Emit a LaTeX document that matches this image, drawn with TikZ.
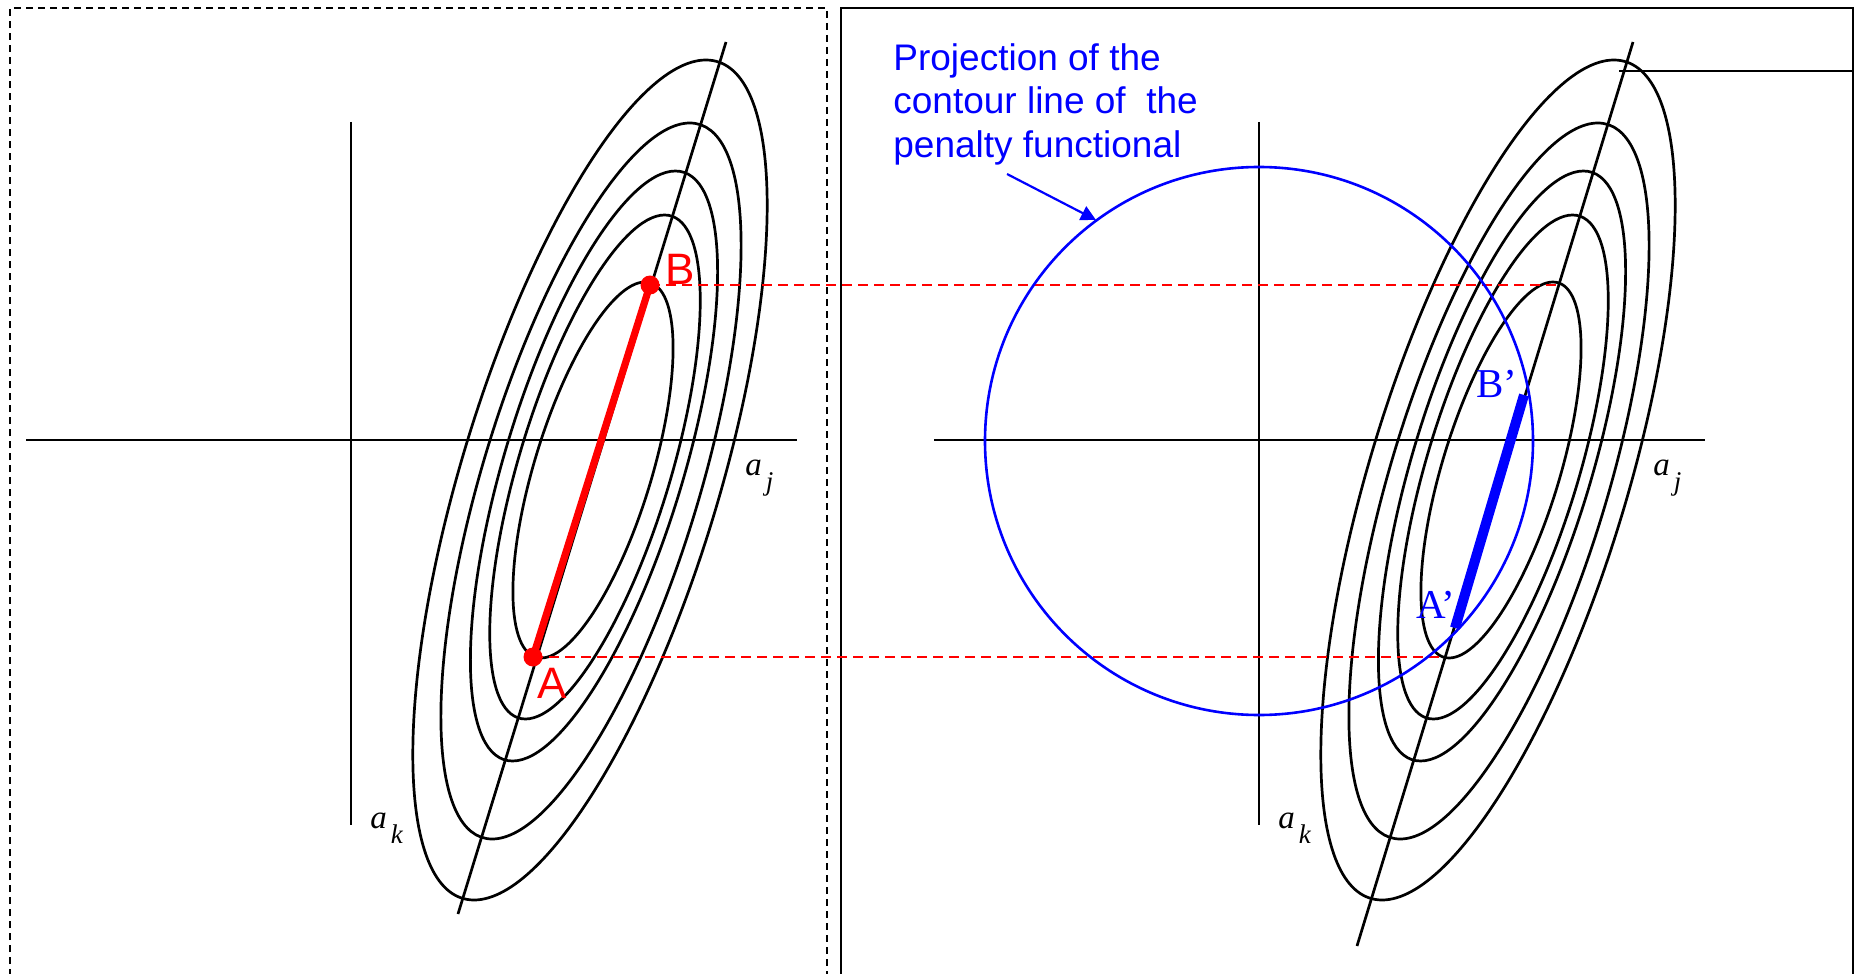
\documentclass[tikz,border=0pt]{standalone}
\usepackage{fontspec}
\setmainfont{Liberation Serif}
\setsansfont{Liberation Sans}
\usetikzlibrary{arrows.meta}
\newcommand{\axsub}[2]{#1\hspace{2pt}\raisebox{-7.5pt}{\fontsize{13.5}{14}\selectfont #2}}

\begin{document}
\begin{tikzpicture}[x=0.5pt, y=-0.5pt, every node/.style={inner sep=0pt},
	axis/.style={line width=1.45pt},
	contour/.style={line width=1.35pt},
	frame/.style={line width=0.8pt},
	proj/.style={red, line width=0.8pt, dash pattern=on 5pt off 3pt},
	penalty/.style={blue, line width=1.3pt},
	axlbl/.style={anchor=base west, font=\fontsize{16.5}{18}\selectfont\itshape},
	ptlbl/.style={anchor=base west, red, font=\sffamily\fontsize{22}{24}\selectfont},
	projlbl/.style={anchor=base west, blue, font=\fontsize{20.5}{22}\selectfont}]
	\path[use as bounding box, clip] (0,0) rectangle (1854,974);
	\draw[frame, dash pattern=on 3.5pt off 2.5pt] (10,1000) -- (10,8) -- (827,8) -- (827,1000);
	\draw[frame] (841,1000) -- (841,8) -- (1853,8) -- (1853,1000);
	\foreach \dx in {0,908} {
		\foreach \cx/\cy/\rx/\ry in {590/480/134/420, 591/481/113/358, 594/466/93/295, 595/467/79/252, 593/470/61/188}
			\draw[contour, shift={(\cx+\dx,\cy)}, xslant=0.276] (0,0) ellipse[x radius=\rx, y radius=\ry];
		\draw[axis] (26+\dx,440) -- (797+\dx,440);
		\draw[axis] (351+\dx,122) -- (351+\dx,825);
		\node[axlbl] (aj\dx) at (745+\dx,475) {\axsub{a}{j}};
		\node[axlbl] (ak\dx) at (370+\dx,828) {\axsub{a}{k}};
	}
	\draw[contour] (458,914) -- (726,42);
	\draw[contour] (1357,946) -- (1633,42);
	\draw[axis] (1619,71) -- (1854,71);
	\coordinate (A) at (533,657);
	\coordinate (B) at (650,285);
	\coordinate (Ar) at (1441,657);
	\coordinate (Br) at (1558,285);
	\draw[proj] (A) -- (Ar);
	\draw[proj] (B) -- (Br);
	\draw[red, line width=3.6pt] (A) -- (B);
	\fill[red] (A) circle[radius=9.5];
	\fill[red] (B) circle[radius=9.5];
	\node[ptlbl] (Alab) at (537,698) {A};
	\node[ptlbl] (Blab) at (665,285) {B};
	\coordinate (O2) at (1259,441);
	\draw[penalty] (O2) circle[radius=274];
	\coordinate (Ap) at (1455,628);
	\coordinate (Bp) at (1524,395);
	\draw[blue, line width=5pt] (Ap) -- (Bp);
	\node[projlbl] (Aplab) at (1416,618) {A’};
	\node[projlbl] (Bplab) at (1476,397) {B’};
	\node[anchor=north west, align=left, blue, font=\sffamily\fontsize{18.5}{21.75}\selectfont] (note) at (893,43) {Projection of the\\contour line of~ the\\penalty functional};
	\coordinate (tail) at (1007,174);
	\coordinate (tip) at (1096,220);
	\draw[blue, line width=1.1pt, -{Triangle[length=7.5pt, width=7.5pt]}] (tail) -- (tip);
\end{tikzpicture}
\end{document}
